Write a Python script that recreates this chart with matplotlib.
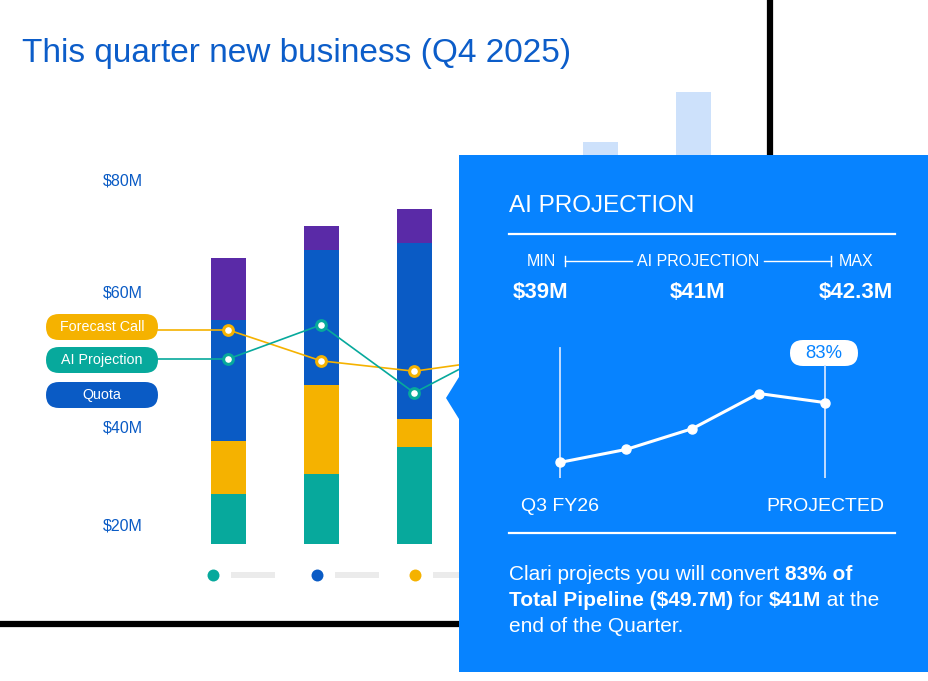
import numpy as np
import matplotlib
matplotlib.use("Agg")
import matplotlib.pyplot as plt
from matplotlib.patches import FancyBboxPatch, Rectangle, Polygon

plt.rcParams['font.family'] = ['Liberation Sans', 'DejaVu Sans']

################################################################################
# data (values in $M-like chart units)
teal_vals     = [11.1, 15.6, 21.6, 18.0]
yellow_vals   = [11.8, 19.8, 6.2, 10.0]
blue_vals     = [26.9, 30.0, 39.1, 34.0]
purple_vals   = [13.8, 5.3, 7.6, 8.0]
future_vals   = [89.3, 100.4]
forecast_call = [47.6, 40.7, 38.4, 41.3]
ai_projection = [41.1, 48.7, 33.6, 44.4]
tick_vals     = [4.4, 26.2, 56.2, 81.1]
tick_labels   = ["$20M", "$40M", "$60M", "$80M"]
pill_labels   = ["Forecast Call", "AI Projection", "Quota"]

mini_vals     = [1.2, 2.2, 3.8, 6.5, 5.8]
mini_labels   = ["Q3 FY26", "PROJECTED"]
mini_pct      = "83%"
range_names   = ["MIN", "AI PROJECTION", "MAX"]
range_values  = ["$39M", "$41M", "$42.3M"]
body_lines = [
    [("Clari projects you will convert ", "normal"), ("83% of", "bold")],
    [("Total Pipeline ($49.7M)", "bold"), (" for ", "normal"), ("$41M", "bold"), (" at the", "normal")],
    [("end of the Quarter.", "normal")],
]

################################################################################
# colours
c_teal, c_yellow, c_blue, c_purple = '#07a99c', '#f5b200', '#0a5bc5', '#5a2aa7'
c_light, c_panel, c_title = '#cde1fb', '#0783ff', '#0c5dc9'

W, H = 929, 681
fig = plt.figure(figsize=(W / 100, H / 100), dpi=100)

# background axes in pixel coords
bg = fig.add_axes([0, 0, 1, 1], zorder=0)
bg.set_xlim(0, W); bg.set_ylim(H, 0); bg.axis('off')
bg.plot([770, 770], [0, 160], color='black', lw=4.5, solid_capstyle='butt')
bg.plot([0, 462], [624, 624], color='black', lw=4.5, solid_capstyle='butt')
bg.text(22, 62, "This quarter new business (Q4 2025)", fontsize=24,
        color=c_title, va='baseline')
for cx, col in zip([213, 317, 415], [c_teal, c_blue, c_yellow]):
    bg.plot(cx, 575, 'o', ms=8.6, color=col, mec='none')
    bg.add_patch(Rectangle((cx + 18, 572), 44, 6, color='#ebebeb', lw=0))

################################################################################
# main chart axes
x0_px, step_px = 228, 93.1
ax = fig.add_axes([150 / W, (H - 544) / H, (W - 150) / W, 540 / H], zorder=1)
ax.set_xlim((150 - x0_px) / step_px, (W - x0_px) / step_px)
ax.set_ylim(0, 120)
ax.patch.set_visible(False)
for s in ax.spines.values():
    s.set_visible(False)
ax.set_xticks([])
ax.set_yticks(tick_vals, tick_labels)
ax.tick_params(axis='y', length=0, pad=5, labelsize=11.5, labelcolor=c_blue)

bw = 35 / step_px
x = np.arange(len(teal_vals))
bottom = np.zeros(len(x))
for vals, col in [(teal_vals, c_teal), (yellow_vals, c_yellow),
                  (blue_vals, c_blue), (purple_vals, c_purple)]:
    ax.bar(x, vals, bw, bottom=bottom, color=col, lw=0)
    bottom += np.array(vals)
ax.bar(np.arange(len(future_vals)) + len(x), future_vals, bw, color=c_light, lw=0)

x_pill = (158 - x0_px) / step_px
for vals, col in [(forecast_call, c_yellow), (ai_projection, c_teal)]:
    ax.plot([x_pill, 0], [vals[0], vals[0]], color=col, lw=1.2, clip_on=False)
    ax.plot(x, vals, color=col, lw=1.2, marker='o', ms=7, mfc='white',
            mec=col, mew=2.2, clip_on=False, zorder=3)

################################################################################
# overlay: pills and projection panel
ov = fig.add_axes([0, 0, 1, 1], zorder=2)
ov.set_xlim(0, W); ov.set_ylim(H, 0); ov.axis('off')
ov.patch.set_visible(False)

for lab, col, yc in zip(pill_labels, [c_yellow, c_teal, c_blue], [327, 360, 395]):
    ov.add_patch(FancyBboxPatch((46, yc - 13), 112, 26, color=col, lw=0,
                                boxstyle="round,pad=0,rounding_size=13"))
    ov.text(102, yc, lab, fontsize=10.3, color='white', ha='center', va='center')

ov.add_patch(Rectangle((459, 155), 480, 517, color=c_panel, lw=0, clip_on=False))
ov.add_patch(Polygon([(459, 377), (446, 398), (459, 419)], color=c_panel, lw=0))

ov.text(509, 212, "AI PROJECTION", fontsize=17.5, color='white', va='baseline',
        fontweight='medium')
ov.plot([509, 895], [234, 234], color='white', lw=1.6)
ov.plot([509, 895], [533, 533], color='white', lw=1.6)

# range row
for name, val, cx in zip(range_names, range_values, [541, 698, 856]):
    ov.text(cx, 261, name, fontsize=11.5, color='white', ha='center', va='center')
    ov.text(cx, 292, val, fontsize=16, color='white', ha='center', va='center',
            fontweight='bold')
ov.plot([565, 632], [261, 261], color='white', lw=1)
ov.plot([565, 565], [256, 266], color='white', lw=1)
ov.plot([764, 831], [261, 261], color='white', lw=1)
ov.plot([831, 831], [256, 266], color='white', lw=1)

# pill for projected %
ov.add_patch(FancyBboxPatch((790, 340), 68, 26, color='white', lw=0,
                            boxstyle="round,pad=0,rounding_size=13"))
ov.text(824, 354, mini_pct, fontsize=13.3, color=c_panel, ha='center', va='center')

# body text with bold runs
renderer = fig.canvas.get_renderer()

def run_width(s, weight, size):
    t1 = ov.text(0, 0, s + "|", fontsize=size, fontweight=weight)
    t2 = ov.text(0, 0, "|", fontsize=size, fontweight=weight)
    w = t1.get_window_extent(renderer).width - t2.get_window_extent(renderer).width
    t1.remove(); t2.remove()
    return w

for i, runs in enumerate(body_lines):
    xx = 509
    for s, weight in runs:
        ov.text(xx, 580 + 26 * i, s, fontsize=15, fontweight=weight,
                color='white', va='baseline')
        xx += run_width(s, weight, 15)

################################################################################
# mini chart in panel
mini = fig.add_axes([540 / W, (H - 478) / H, 305 / W, 138 / H], zorder=3)
mini.set_xlim(-20 / 66.25, 285 / 66.25)
mini.set_ylim(0, 138 / 13)
mini.patch.set_visible(False)
for s in mini.spines.values():
    s.set_visible(False)
mini.set_yticks([])
mini.plot([0, 0], [0, 10.0], color='#cfe3ff', lw=1.3)
mini.plot([4, 4], [0, 8.6], color='#cfe3ff', lw=1.3)
mini.plot(np.arange(len(mini_vals)), mini_vals, color='white', lw=2.2,
          marker='o', ms=6.5, clip_on=False)
mini.set_xticks([0, 4], mini_labels)
mini.tick_params(axis='x', length=0, pad=14.5, labelsize=14, labelcolor='white')

fig.savefig("out.png", dpi=100)
